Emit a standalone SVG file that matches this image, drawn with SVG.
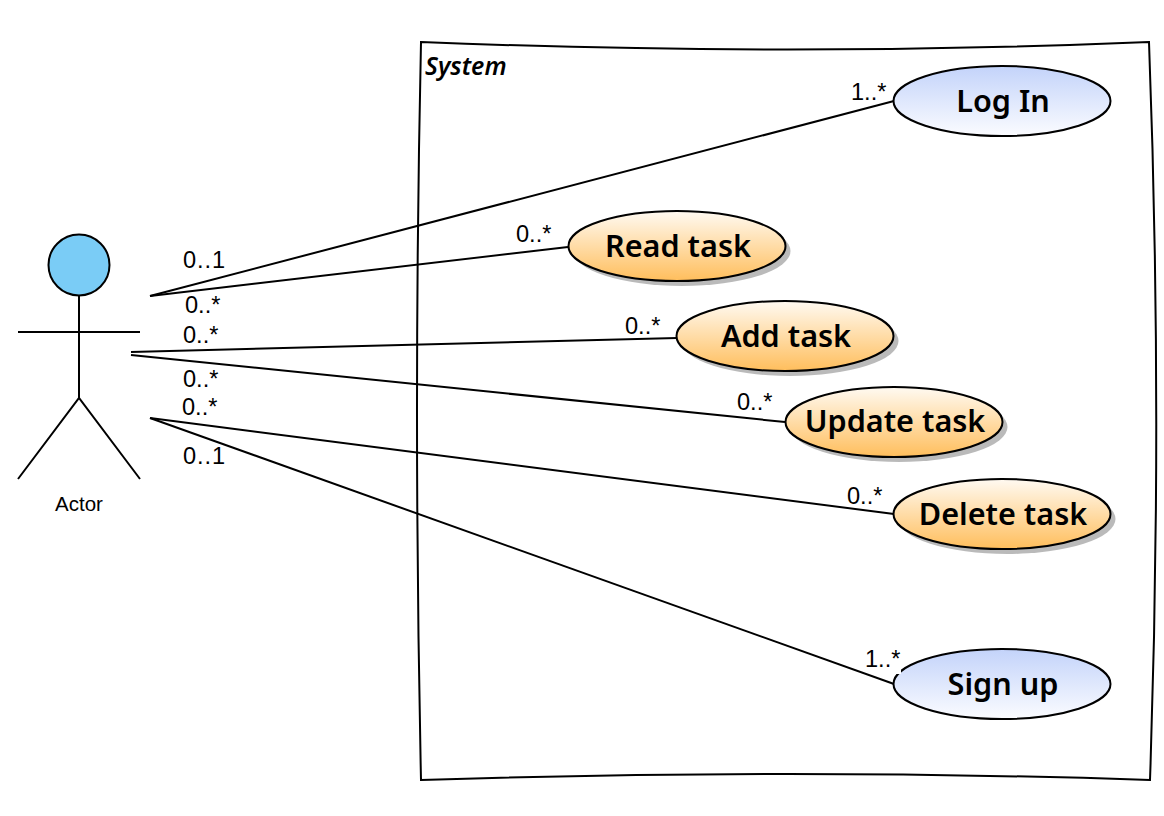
<svg xmlns="http://www.w3.org/2000/svg" width="1164" height="816" viewBox="0 0 1164 816">
<style>
.line{fill:none;stroke:#000;stroke-width:2;stroke-linecap:butt}
.uc{stroke:#000;stroke-width:2}
.sh{fill:#000;fill-opacity:.27}
.name{font-family:"Noto Sans","Open Sans",sans-serif;font-size:30.6px;font-weight:600;text-anchor:middle;fill:#000}
.mult{font-family:"Liberation Sans",Arial,sans-serif;font-size:23.6px;fill:#000}
.wide{letter-spacing:.9px}
</style>
<defs>
<linearGradient id="blue" x1="0" y1="0" x2="0" y2="1"><stop offset="0" stop-color="#c3d3fa"/><stop offset="1" stop-color="#fbfcff"/></linearGradient>
<linearGradient id="orange" x1="0" y1="0" x2="0" y2="1"><stop offset="0" stop-color="#fffaf2"/><stop offset="1" stop-color="#ffbe5c"/></linearGradient>
</defs>
<rect width="1164" height="816" fill="#fff"/>
<g id="system">
<path d="M421 42 Q790 57 1149 42 Q1163 410 1150 780 Q790 768 421 780 Q413 410 421 42 Z" fill="#fff" stroke="#000" stroke-width="2"/>
<text x="425" y="75" font-family="'Noto Sans','Open Sans',sans-serif" font-size="24.8" font-style="italic" font-weight="600">System</text>
</g>
<g id="connectors">
<line class="line" x1="150" y1="296" x2="894" y2="101"/>
<line class="line" x1="150" y1="296" x2="568" y2="247"/>
<line class="line" x1="131" y1="352" x2="677" y2="338"/>
<line class="line" x1="131" y1="355" x2="785" y2="422"/>
<line class="line" x1="150" y1="418" x2="894" y2="514"/>
<line class="line" x1="150" y1="418" x2="894" y2="684"/>
</g>
<g id="actor">
<circle cx="79" cy="265" r="30.5" fill="#7accf6" stroke="#000" stroke-width="2"/>
<path class="line" d="M79 296V398M18 332H140M18 479L79 398L140 479"/>
<text x="79" y="511" font-family="'Liberation Sans',Arial,sans-serif" font-size="20.5" text-anchor="middle">Actor</text>
</g>
<g id="login"><ellipse class="uc" cx="1002" cy="101" rx="108.5" ry="35" fill="url(#blue)"/><text class="name" x="1003" y="112">Log In</text></g>
<g id="read"><ellipse class="sh" cx="682" cy="251" rx="108.5" ry="35"/><ellipse class="uc" cx="677" cy="246" rx="108.5" ry="35" fill="url(#orange)"/><text class="name" x="678" y="257">Read task</text></g>
<g id="add"><ellipse class="sh" cx="790" cy="341" rx="108.5" ry="35"/><ellipse class="uc" cx="785" cy="336" rx="108.5" ry="35" fill="url(#orange)"/><text class="name" x="786" y="347">Add task</text></g>
<g id="update"><ellipse class="sh" cx="899" cy="427" rx="108.5" ry="35"/><ellipse class="uc" cx="894" cy="422" rx="108.5" ry="35" fill="url(#orange)"/><text class="name" x="895" y="432">Update task</text></g>
<g id="delete"><ellipse class="sh" cx="1007" cy="519" rx="108.5" ry="35"/><ellipse class="uc" cx="1002" cy="514" rx="108.5" ry="35" fill="url(#orange)"/><text class="name" x="1003" y="525">Delete task</text></g>
<g id="signup"><ellipse class="uc" cx="1002" cy="684" rx="108.5" ry="35" fill="url(#blue)"/><text class="name" x="1003" y="695">Sign up</text></g>
<g id="labels">
<text class="mult wide" x="183" y="268">0..1</text>
<text class="mult" x="185" y="313">0..*</text>
<text class="mult" x="183" y="343">0..*</text>
<text class="mult" x="183" y="387">0..*</text>
<text class="mult" x="182" y="415">0..*</text>
<text class="mult wide" x="183" y="464">0..1</text>
<text class="mult" x="851" y="100">1..*</text>
<text class="mult" x="516" y="242">0..*</text>
<text class="mult" x="625" y="334">0..*</text>
<text class="mult" x="737" y="410">0..*</text>
<text class="mult" x="847" y="504">0..*</text>
<rect x="895" y="668" width="6" height="6" fill="#fff"/>
<text class="mult" x="865" y="667">1..*</text>
</g>
</svg>
